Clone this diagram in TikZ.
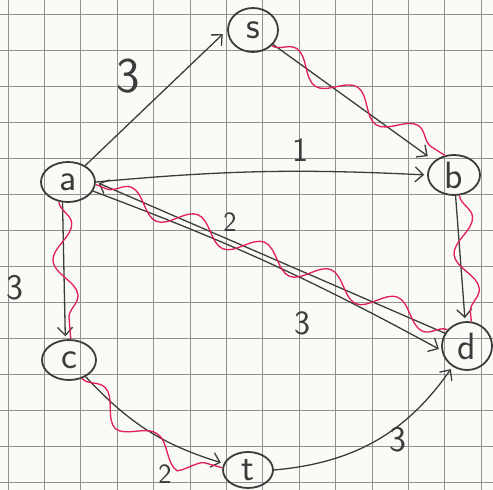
\documentclass[tikz,border=0pt]{standalone}
\usepackage{fontspec}
\usetikzlibrary{arrows.meta,decorations.pathmorphing,shapes.geometric}
\definecolor{pen}{RGB}{60,60,60}
\definecolor{wave}{RGB}{226,30,86}
\definecolor{paper}{RGB}{250,250,247}
\definecolor{gridc}{RGB}{145,145,145}
\begin{document}
\begin{tikzpicture}[x=1pt,y=-1pt,
  vtx/.style={ellipse, draw=pen, line width=1.8pt, inner sep=0pt,
    font=\sffamily\fontsize{38}{40}\selectfont, text=pen},
  edge/.style={draw=pen, line width=1.3pt,
    -{Straight Barb[length=8pt,width=15pt]}, shorten >=3pt},
  wavy/.style={draw=wave, line width=1.3pt, decorate,
    decoration={snake, segment length=72pt, amplitude=11pt}},
  lbl/.style={text=pen, inner sep=0pt, font=\sffamily\fontsize{#1}{#1}\selectfont},
  lbl/.default=32,
  gridline/.style={draw=gridc, line width=1pt}]
\useasboundingbox (0,0) rectangle (493,490);
\fill[paper] (0,0) rectangle (493,490);
% squared paper
\foreach \k in {0,...,13} {
  \draw[gridline] ({8+36.4*\k},0) -- ({8+36.4*\k},490);
  \draw[gridline] (0,{14+36*\k}) -- (493,{14+36*\k});
}
% vertices
\node[vtx, minimum width=50pt, minimum height=44pt] (s) at (253,30) {s};
\node[vtx, minimum width=54pt, minimum height=40pt] (a) at (68,182) {a};
\node[vtx, minimum width=52pt, minimum height=40pt] (b) at (454,175) {b};
\node[vtx, minimum width=50pt, minimum height=48pt] (d) at (467,346) {d};
\node[vtx, minimum width=54pt, minimum height=40pt] (c) at (69,360) {c};
\node[vtx, minimum width=50pt, minimum height=36pt] (t) at (248,470) {t};
% edges
\draw[edge, shorten >=6pt] (a) -- (s.west);
\draw[edge, shorten >=8pt] (s) -- (b);
\draw[edge] (a.east) to[bend left=4] (b.west);
\draw[edge] (d.150) -- (a.east);
\draw[edge] (a.-20) to[bend left=4] (d.190);
\draw[edge] (a.-105) -- (c.100);
\draw[edge] (b) -- (d);
\draw[edge] (c.-45) to[bend right=15] (t.165);
\draw[edge] (t.east) to[bend right=25] (d.-125);
% highlighted path
\draw[wavy] (s.-40) -- (b.115);
\draw[wavy] (b.-75) -- (d.80);
\draw[wavy] (d.140) -- (a.-5);
\draw[wavy] (a.-115) -- (c.85);
\draw[wavy] (c.-55) to[bend right=15] (t.175);
% weights
\node[lbl=50] (w1) at (128,76) {3};
\node[lbl=34] (w2) at (300,150) {1};
\node[lbl=28] (w3) at (230,222) {2};
\node[lbl=34] (w4) at (302,323) {3};
\node[lbl=36] (w5) at (15,288) {3};
\node[lbl=28] (w6) at (165,474) {2};
\node[lbl=36] (w7) at (398,440) {3};
\end{tikzpicture}
\end{document}
